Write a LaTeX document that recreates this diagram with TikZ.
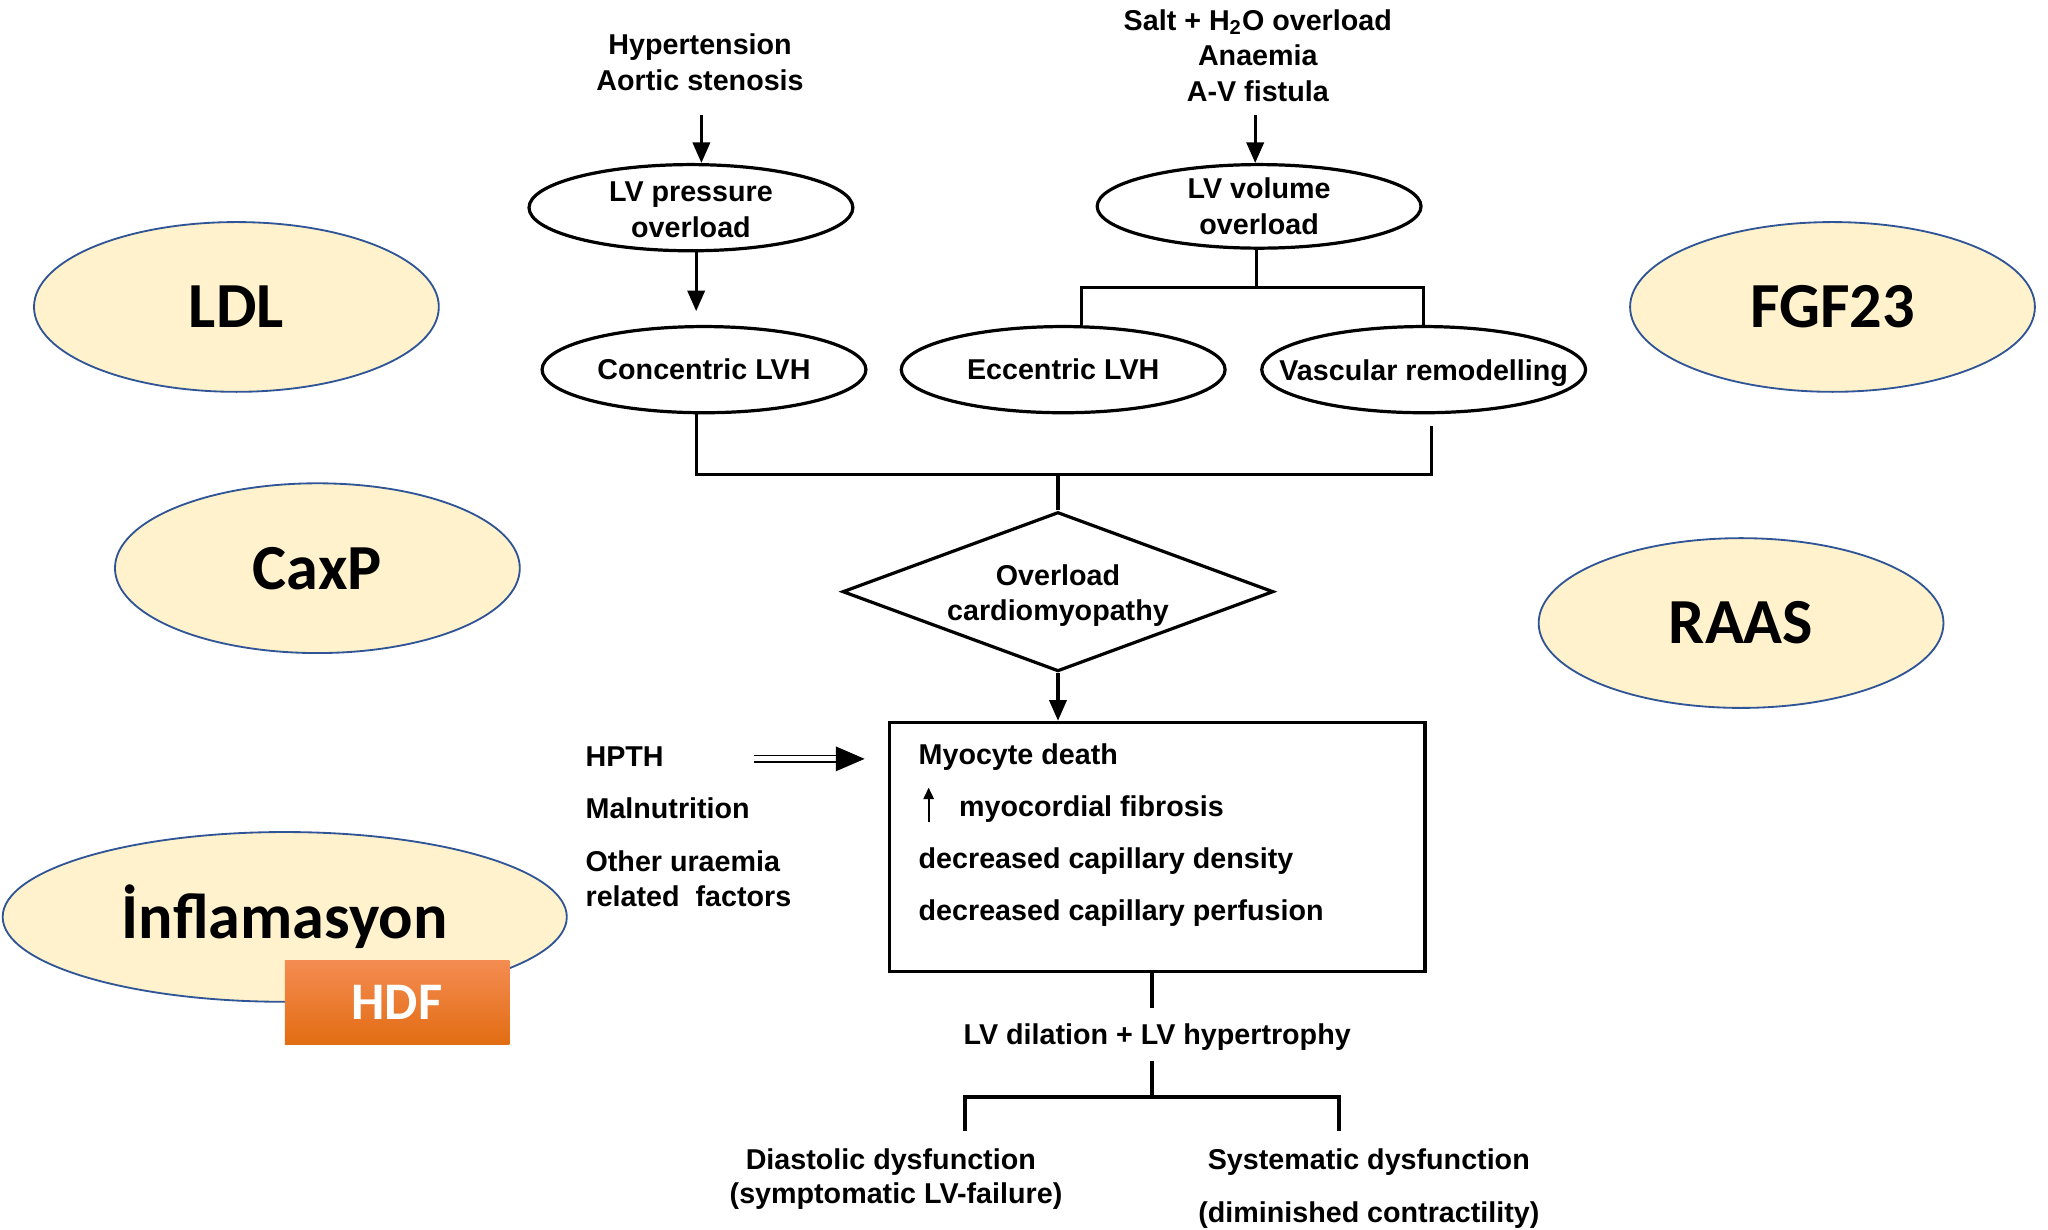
\documentclass[tikz,border=0pt]{standalone}
\usepackage{fontspec}
\setmainfont{Liberation Sans}
\newfontfamily\calfont{Carlito}
\usetikzlibrary{shapes.geometric,arrows.meta}
\definecolor{yel}{HTML}{FFF2CC}
\definecolor{blueb}{HTML}{2F5597}
\definecolor{orT}{HTML}{F48C52}
\definecolor{orB}{HTML}{E26C12}
\tikzset{
  txt/.style={font=\fontsize{12.5}{15.5}\selectfont\bfseries, align=center, inner sep=0pt},
  ltxt/.style={font=\fontsize{12.5}{15.5}\selectfont\bfseries, anchor=base west, inner sep=0pt},
  oval/.style={ellipse, draw, line width=1.4pt, minimum width=4.96cm, minimum height=1.32cm, inner sep=0pt},
  yoval/.style={ellipse, draw=blueb, line width=0.8pt, fill=yel, minimum width=6.2cm, minimum height=2.6cm, inner sep=0pt},
  ytxt/.style={font=\calfont\fontsize{28}{30}\selectfont\bfseries, inner sep=0pt},
  arr/.style={line width=1.4pt, -{Triangle[length=9pt,width=7.5pt]}},
  ln/.style={line width=1.4pt},
}
\begin{document}
\begin{tikzpicture}[x=0.02cm, y=-0.02cm]
\useasboundingbox (0,0) rectangle (1568,941);

% yellow ellipses
\node[yoval] (ldl) at (181,235) {};
\node[ytxt] at (ldl) {LDL};
\node[yoval] (caxp) at (243,435) {};
\node[ytxt] at (caxp) {CaxP};
\node[yoval, minimum width=8.64cm] (inf) at (218,702) {};
\node[ytxt] at (inf) {İnflamasyon};
\node[yoval] (fgf) at (1403,235) {};
\node[ytxt] at (fgf) {FGF23};
\node[yoval] (raas) at (1333,477) {};
\node[ytxt] at (raas) {RAAS};
\node[rectangle, top color=orT, bottom color=orB, minimum width=3.44cm, minimum height=1.3cm, inner sep=0pt,
      font=\calfont\fontsize{23}{25}\selectfont\bfseries, text=white] (hdf) at (304,767.5) {HDF};

% top texts
\node[txt] (hyp) at (536,47.5) {Hypertension\\Aortic stenosis};
\node[txt] (salt) at (963,42.5) {Salt + H\textsubscript{2}O overload\\Anaemia\\A-V fistula};

% ellipses
\node[oval] (lvp) at (529,159) {};
\node[txt] at (529,160.5) {LV pressure\\overload};
\node[oval, minimum height=1.28cm] (lvv) at (964,158) {};
\node[txt] at (964,158) {LV volume\\overload};
\node[oval] (conc) at (539,283) {};
\node[txt] at (conc) {Concentric LVH};
\node[oval] (ecc) at (814,283) {};
\node[txt] at (ecc) {Eccentric LVH};
\node[oval] (vas) at (1090,283) {};
\node[txt] at (1090,285.5) {Vascular remodelling};

% arrows top
\coordinate (a1) at (537,88);
\draw[arr] (a1) -- (lvp.north -| a1);
\coordinate (a2) at (961,88);
\draw[arr] (a2) -- (lvv.north -| a2);
\coordinate (a3) at (533,192);
\draw[arr, shorten >=6pt] (a3) -- (conc.north -| a3);

% volume branch
\coordinate (vj) at (962,220);
\coordinate (eL) at (828,220);
\coordinate (eR) at (1090,220);
\draw[ln] (lvv.south -| vj) -- (vj);
\draw[ln] (ecc.north -| eL) -- (eL) -- (eR) -- (vas.north);

% merge
\coordinate (mL) at (533,363);
\coordinate (mR) at (1096,363);
\coordinate (mC) at (810,363);
\draw[ln] (conc.south -| mL) -- (mL) -- (mR) -- ([yshift=-5pt]vas.south -| mR);

% diamond
\node[diamond, draw, line width=1.4pt, minimum width=6.6cm, minimum height=2.44cm, shape aspect=2.7, inner sep=0pt] (dia) at (810,453) {};
\node[txt] at (810,456) {Overload\\cardiomyopathy};
\draw[ln] (mC) -- (dia.north);

% box
\node[rectangle, draw, line width=1.4pt, minimum width=8.2cm, minimum height=3.82cm, inner sep=0pt] (box) at (886,648.5) {};
\draw[arr] (dia.south) -- (box.north -| dia.south);
\node[ltxt] (l1) at (703,585) {Myocyte death};
\node[ltxt] (l2) at (734,625) {myocordial fibrosis};
\node[ltxt] (l3) at (703,665) {decreased capillary density};
\node[ltxt] (l4) at (703,705) {decreased capillary perfusion};
\coordinate (u1) at (711,629);
\coordinate (u2) at (711,603);
\draw[line width=0.8pt, -{Triangle[length=5pt,width=4.5pt]}] (u1) -- (u2);

% left factors
\node[ltxt] (hpth) at (448,587) {HPTH};
\node[ltxt] (maln) at (448,627) {Malnutrition};
\node[ltxt] (oth) at (448,667) {Other uraemia};
\node[ltxt] (rel) at (448,694) {related\ \ factors};
\coordinate (hA) at (577,581);
\coordinate (hB) at (643,581);
\coordinate (hT) at (662,581);
\draw[double, double distance=2.2pt, line width=0.7pt] (hA) -- (hB);
\fill (hT) -- ++(-22,-9.5) -- ++(0,19) -- cycle;

% bottom
\node[txt] (lvd) at (886,794) {LV dilation + LV hypertrophy};
\coordinate (b1) at (882,744);
\coordinate (b2) at (882,772);
\draw[ln] (b1) -- (b2);
\coordinate (sT) at (882,812);
\coordinate (sJ) at (882,840);
\coordinate (sL) at (739,840);
\coordinate (sR) at (1025,840);
\coordinate (dL) at (739,866);
\coordinate (dR) at (1025,866);
\draw[ln] (sT) -- (sJ);
\draw[line width=1.8pt] (dL) -- (sL) -- (sR) -- (dR);

\node[txt] (dia1) at (682,890) {Diastolic dysfunction};
\node[txt] (dia2) at (686,916) {(symptomatic LV-failure)};
\node[txt] (sys1) at (1048,890) {Systematic dysfunction};
\node[txt] (sys2) at (1048,930) {(diminished contractility)};
\end{tikzpicture}
\end{document}
